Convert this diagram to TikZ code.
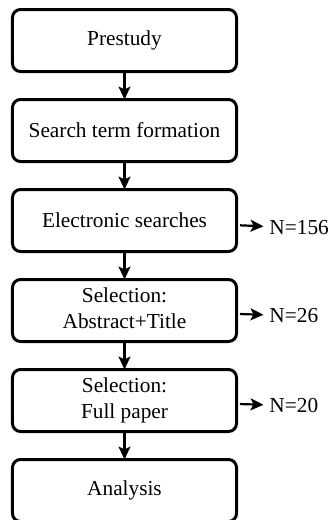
\documentclass[tikz,border=0pt]{standalone}
\usepackage{fontspec}
\setmainfont{Liberation Serif}
\usetikzlibrary{matrix,arrows.meta}

\newcommand{\twolines}[2]{\begin{tabular}{@{}c@{}}#1\\#2\end{tabular}}

\begin{document}
\begin{tikzpicture}[
stage/.style={draw, line width=3pt, rounded corners=8pt, minimum width=224pt,
minimum height=62pt, inner sep=0pt},
count/.style={anchor=west, inner sep=4pt},
flow/.style={draw, line width=2.2pt, -{Stealth[length=13pt,width=12pt,inset=3pt]}}]
\useasboundingbox (0,0) rectangle (331pt,-520pt);
\matrix (a) [matrix of nodes, anchor=north west, inner sep=0pt, outer sep=0pt,
row sep=25pt, column sep=27.5pt, nodes={font=\fontsize{21.3}{25.5}\selectfont},
column 1/.style={nodes=stage}, column 2/.style={nodes=count}] at (11pt,-8pt)
{ Prestudy & \\
Search term formation & \\
Electronic searches & N=156 \\
\twolines{Selection:}{Abstract+Title} & N=26 \\
\twolines{Selection:}{Full paper} & N=20 \\
Analysis & \\};
\draw[flow] (a-1-1) -- (a-2-1);
\draw[flow] (a-2-1) -- (a-3-1);
\draw[flow] (a-3-1) -- (a-4-1);
\draw[flow] (a-4-1) -- (a-5-1);
\draw[flow] (a-5-1) -- (a-6-1);
\draw[flow, shorten <=3.5pt, shorten >=2pt] (a-3-1) -- (a-3-2);
\draw[flow, shorten <=3.5pt, shorten >=2pt] (a-4-1) -- (a-4-2);
\draw[flow, shorten <=3.5pt, shorten >=2pt] (a-5-1) -- (a-5-2);
\end{tikzpicture}
\end{document}
